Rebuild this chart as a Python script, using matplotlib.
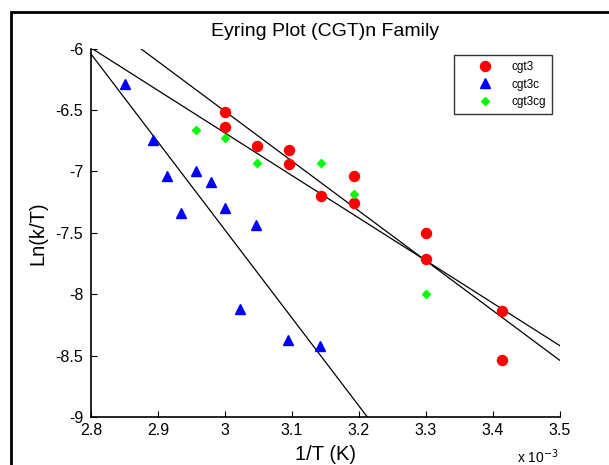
import matplotlib
matplotlib.use("Agg")
import matplotlib.pyplot as plt
from matplotlib.patches import Rectangle

plt.rcParams['font.family'] = ['Liberation Sans', 'DejaVu Sans']

# data (1/T in units of 1e-3 K^-1, Ln(k/T))
cgt3_x = [3.0, 3.0, 3.048, 3.095, 3.095, 3.143, 3.193, 3.193, 3.3, 3.3, 3.413, 3.413]
cgt3_y = [-6.52, -6.64, -6.79, -6.83, -6.94, -7.20, -7.04, -7.26, -7.50, -7.71, -8.14, -8.54]

cgt3c_x = [2.851, 2.893, 2.914, 2.935, 2.957, 2.979, 3.0, 3.023, 3.047, 3.094, 3.142]
cgt3c_y = [-6.29, -6.745, -7.04, -7.34, -7.00, -7.085, -7.30, -8.12, -7.44, -8.37, -8.42]

cgt3cg_x = [2.957, 3.0, 3.048, 3.143, 3.193, 3.3]
cgt3cg_y = [-6.665, -6.73, -6.93, -6.93, -7.185, -8.0]

fit_x = [2.8, 3.5]
fit1_y = [-5.70, -8.54]
fit2_y = [-5.995, -8.42]
fit3_y = [-6.045, -11.06]

xticks = [2.8, 2.9, 3.0, 3.1, 3.2, 3.3, 3.4, 3.5]
xticklabels = ['2.8', '2.9', '3', '3.1', '3.2', '3.3', '3.4', '3.5']
yticks = [-9, -8.5, -8, -7.5, -7, -6.5, -6]
yticklabels = ['-9', '-8.5', '-8', '-7.5', '-7', '-6.5', '-6']

W, H = 609, 465
fig = plt.figure(figsize=(W / 100, H / 100), dpi=100)
ax = fig.add_axes([91 / W, 1 - 417 / H, (560 - 91) / W, (417 - 48.5) / H])

for fy in (fit1_y, fit2_y, fit3_y):
    ax.plot(fit_x, fy, color='black', lw=0.9, zorder=2)

ax.plot(cgt3_x, cgt3_y, 'o', color='#ff0000', ms=7.2, mec='#ff0000', ls='none', label='cgt3', zorder=3)
ax.plot(cgt3c_x, cgt3c_y, '^', color='#0000ff', ms=7.0, mec='#0000ff', ls='none', label='cgt3c', zorder=3)
ax.plot(cgt3cg_x, cgt3cg_y, 'D', color='#00ff00', ms=4.0, mec='#00ff00', ls='none', label='cgt3cg', zorder=3)

ax.set_xlim(2.8, 3.5)
ax.set_ylim(-9, -6)
ax.set_xticks(xticks)
ax.set_xticklabels(xticklabels)
ax.set_yticks(yticks)
ax.set_yticklabels(yticklabels)
ax.tick_params(direction='in', length=4, width=0.8, labelsize=11.5)
ax.tick_params(axis='x', pad=4)
ax.tick_params(axis='y', pad=5.5)
for s in ('top', 'right'):
    ax.spines[s].set_visible(False)
for s in ('left', 'bottom'):
    ax.spines[s].set_linewidth(1.2)

ax.set_title('Eyring Plot (CGT)n Family', fontsize=14, pad=9)
ax.set_xlabel('1/T (K)', fontsize=14.5, labelpad=5.5)
ax.set_ylabel('Ln(k/T)', fontsize=14.5, labelpad=6)

fig.text(517 / W, 1 - 447 / H, r'x 10$^{-3}$', fontsize=10, va='top', ha='left')

leg = ax.legend(loc='upper left', bbox_to_anchor=((454 - 91) / (560 - 91), (417 - 55) / (417 - 48.5)),
                fontsize=8.5, frameon=True, fancybox=False, edgecolor='black',
                borderpad=0.5, handletextpad=0.2, labelspacing=0.48, handlelength=4.2,
                borderaxespad=0)
leg.get_frame().set_linewidth(1.0)

fig.patches.append(Rectangle((11 / W, -0.2), 2.0, 1 - 12 / H + 0.2, transform=fig.transFigure,
                             fill=False, edgecolor='black', lw=2, figure=fig))

fig.savefig('out.png', dpi=100)
